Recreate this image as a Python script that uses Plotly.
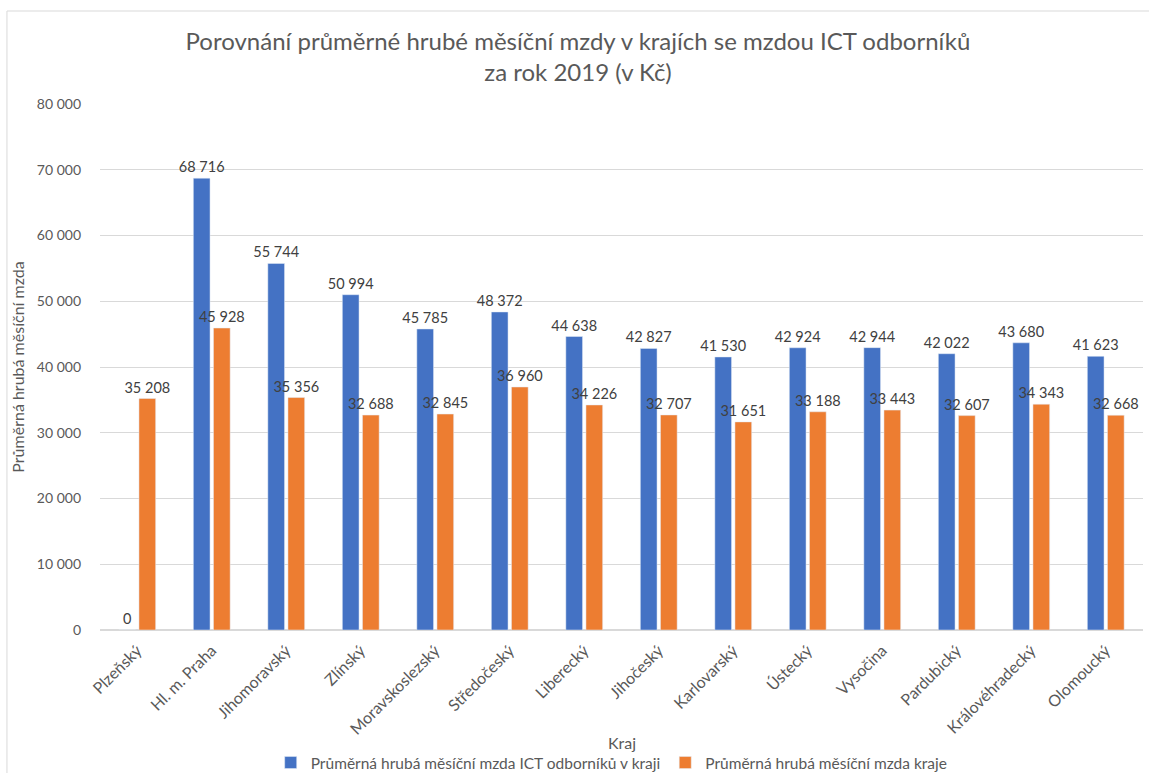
import plotly.graph_objects as go

kraje = ["Plzeňský", "Hl. m. Praha", "Jihomoravský", "Zlínský", "Moravskoslezský",
         "Středočeský", "Liberecký", "Jihočeský", "Karlovarský", "Ústecký",
         "Vysočina", "Pardubický", "Královéhradecký", "Olomoucký"]
ict = [0, 68716, 55744, 50994, 45785, 48372, 44638, 42827, 41530, 42924, 42944, 42022, 43680, 41623]
kraj_mzda = [35208, 45928, 35356, 32688, 32845, 36960, 34226, 32707, 31651, 33188, 33443, 32607, 34343, 32668]

name_ict = "Průměrná hrubá měsíční mzda ICT odborníků v kraji"
name_kraj = "Průměrná hrubá měsíční mzda kraje"

FONT = "Lato, Carlito, Calibri, sans-serif"
GRAY = "#595959"

fig = go.Figure()
fig.add_trace(go.Bar(x=kraje, y=ict, name=name_ict, marker_color="#4472C4",
                     texttemplate="%{y:,.0f}", textposition="outside", constraintext="none",
                     textfont=dict(size=14.5, color="#404040"), cliponaxis=False))
fig.add_trace(go.Bar(x=kraje, y=kraj_mzda, name=name_kraj, marker_color="#ED7D31",
                     texttemplate="%{y:,.0f}", textposition="outside", constraintext="none",
                     textfont=dict(size=14.5, color="#404040"), cliponaxis=False))

fig.update_layout(
    width=1149, height=773,
    separators=", ",
    font=dict(family=FONT, size=14, color=GRAY),
    paper_bgcolor="white", plot_bgcolor="white",
    margin=dict(l=100, r=6, t=104, b=143),
    barmode="group", bargap=0.46, bargroupgap=0.17,
    title=dict(text="Porovnání průměrné hrubé měsíční mzdy v krajích se mzdou ICT odborníků<br>za rok 2019 (v Kč)",
               x=0.503, xanchor="center", y=0.935, yanchor="middle",
               font=dict(size=24, color=GRAY, family=FONT)),
    yaxis=dict(range=[0, 80000], dtick=10000, tickformat=",.0f",
               gridcolor="#D9D9D9", gridwidth=1, zeroline=True, zerolinecolor="#D9D9D9",
               showline=False, ticks="", ticklen=0, ticklabelstandoff=18,
               tickfont=dict(size=14, color=GRAY),
               title=dict(text="Průměrná hrubá měsíční mzda", font=dict(size=16, color=GRAY),
                          standoff=8)),
    xaxis=dict(tickangle=-45, tickfont=dict(size=16, color=GRAY), showline=True,
               linecolor="#D9D9D9", ticks="", automargin=False, ticklabelstandoff=4),
    legend=dict(orientation="h", x=0.4906, xanchor="center", yref="container", y=0.013,
                yanchor="middle", font=dict(size=15.5, color=GRAY),
                itemwidth=30, traceorder="normal", bgcolor="rgba(0,0,0,0)"),
    showlegend=True,
)
fig.update_yaxes(automargin=False)

fig.add_annotation(text="Kraj", xref="paper", yref="paper", x=0.5, y=-0.214,
                   showarrow=False, font=dict(size=16, color=GRAY), yanchor="middle")

fig.add_shape(type="rect", xref="paper", yref="paper", x0=-0.0892, y0=-0.6, x1=1.2, y1=1.1768,
              line=dict(color="#D9D9D9", width=1), fillcolor="rgba(0,0,0,0)", layer="below")

fig.write_html("out.html")
